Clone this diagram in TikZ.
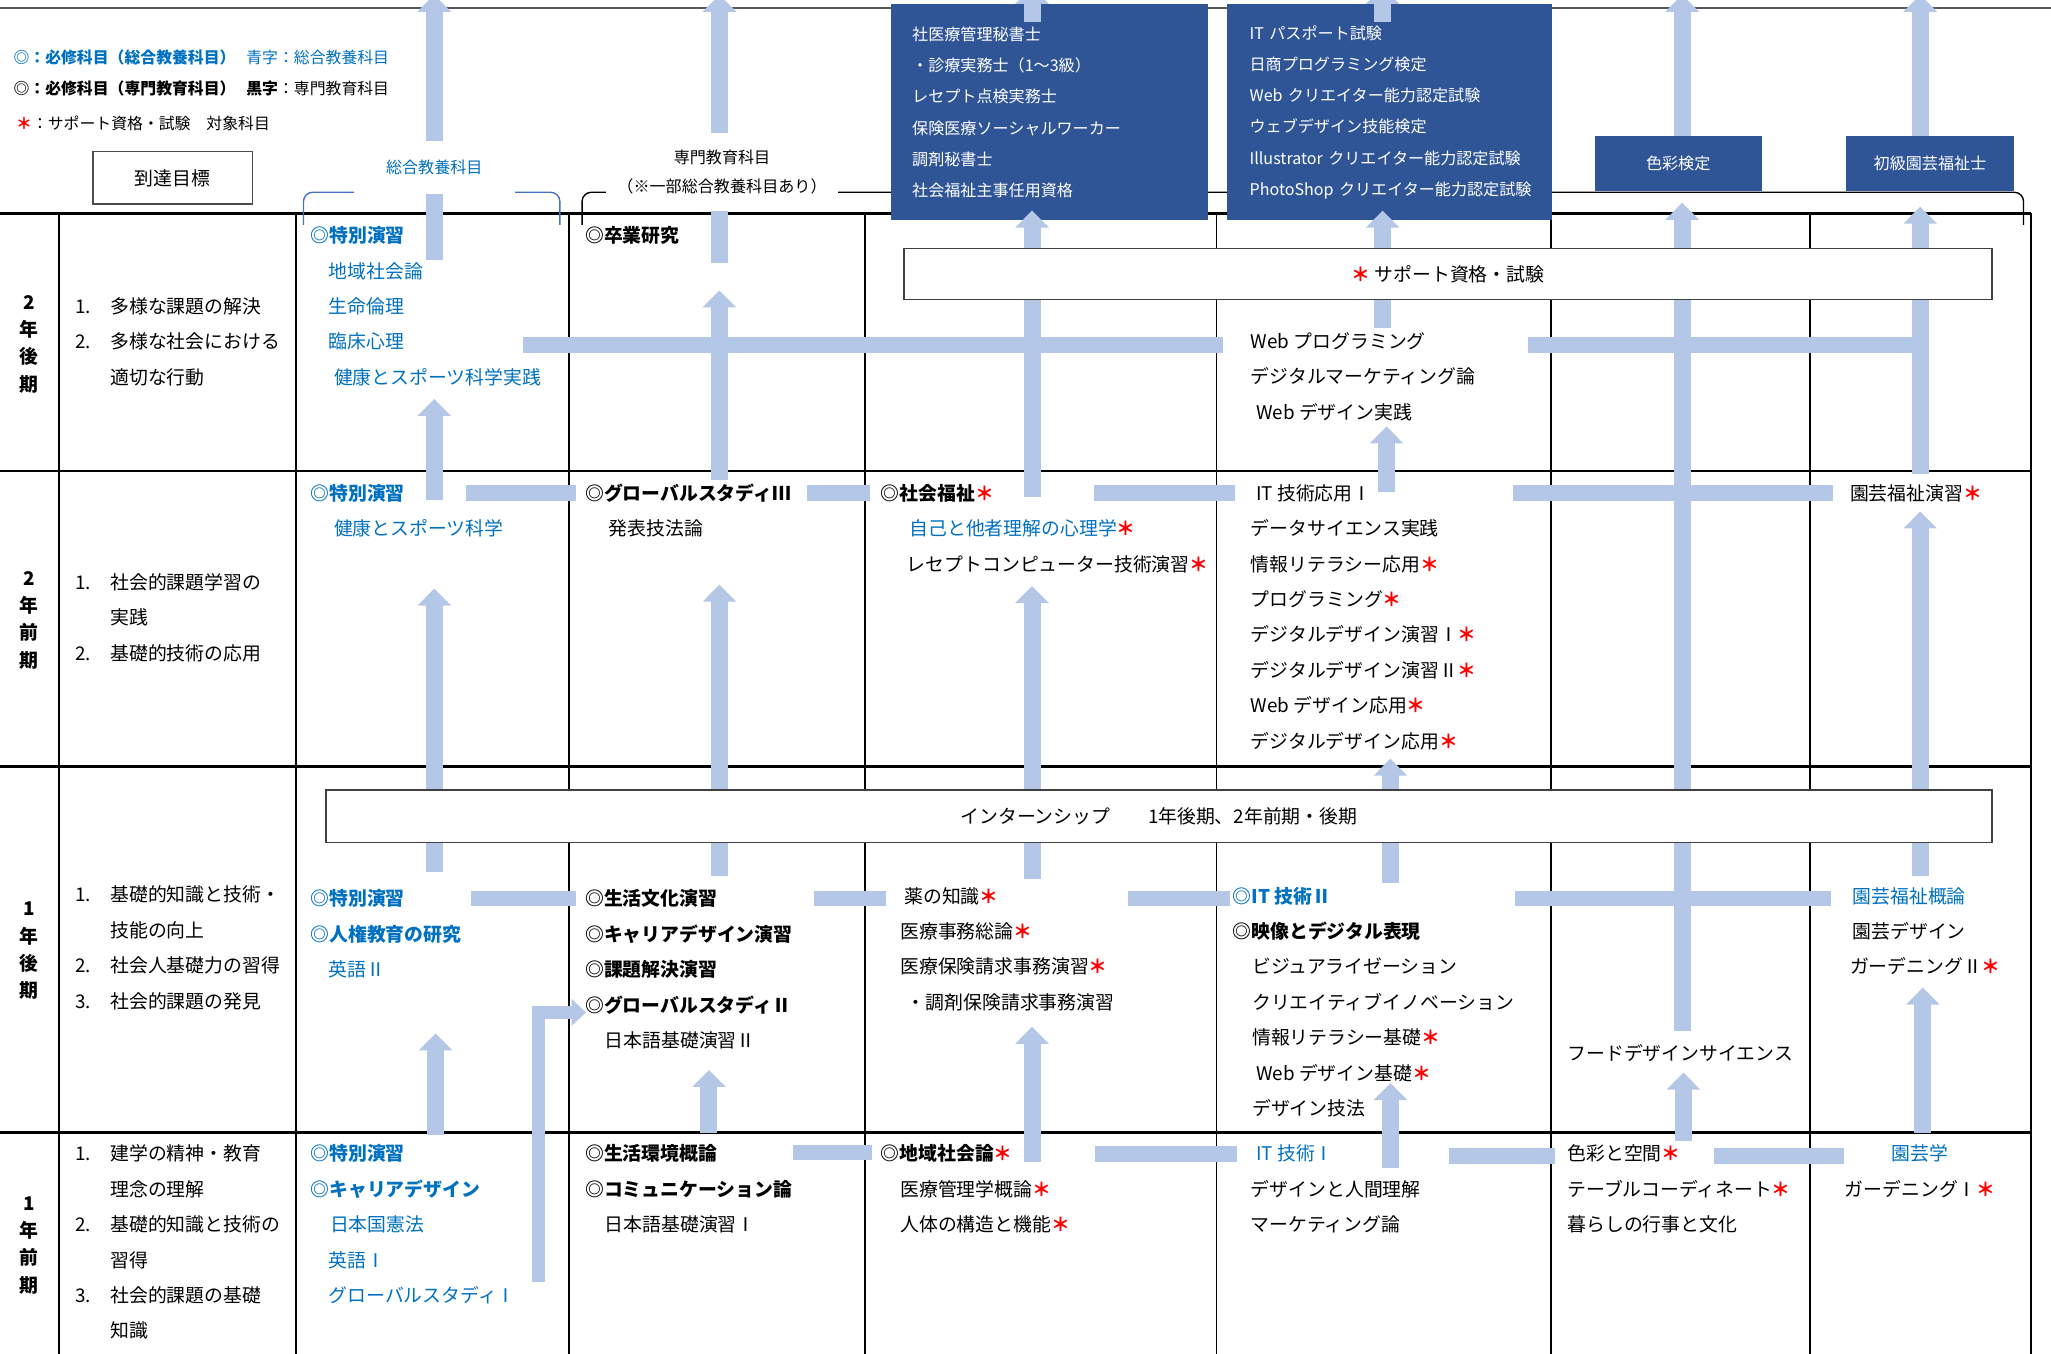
\documentclass[tikz,border=0pt]{standalone}
\usepackage{fontspec}
\setmainfont{Noto Sans CJK JP}
\usetikzlibrary{arrows.meta}

\definecolor{kyoyo}{HTML}{0070C0}
\definecolor{boxblue}{HTML}{2F5597}
\definecolor{arrowblue}{HTML}{B4C7E7}
\definecolor{bracketblue}{HTML}{4472C4}

\newcommand{\kb}[1]{\textcolor{kyoyo}{#1}}
\newcommand{\shiken}{\textcolor{red}{\bfseries ＊}}
\newcommand{\indt}[1]{\hspace*{#1}}
\newcommand{\nmb}[1]{\makebox[0.54cm][l]{#1}}
\newcommand{\lines}[1]{\begin{tabular}[t]{@{}l@{}}#1\end{tabular}}

\tikzset{
  txt/.style={font=\fontsize{8.2}{15.4}\selectfont, inner sep=0pt, anchor=base west},
  boxfont/.style={font=\fontsize{7}{13.6}\selectfont},
  uparr/.style={draw=arrowblue, line width=0.26cm, -{Triangle[width=0.5cm,length=0.26cm]}},
  hbar/.style={draw=arrowblue, line width=0.24cm},
  bluebox/.style={fill=boxblue, text=white, inner sep=0pt, boxfont},
  whitebox/.style={draw=black!75, fill=white, line width=0.6pt, font=\fontsize{8.2}{10}\selectfont},
  yearlbl/.style={font=\fontsize{8.2}{11.9}\selectfont\bfseries, align=center, inner sep=0pt},
}

\begin{document}
\begin{tikzpicture}[x=0.02cm, y=-0.02cm]
\useasboundingbox (0,0) rectangle (1568,1035);

% 罫線
\draw[black!65, line width=1pt] (0,6) -- (1568,6);
\foreach \y in {163,360,586,866} \draw[line width=1.2pt] (0,\y) -- (1553,\y);
\foreach \x in {45,226,435,661,930,1186,1384,1553} \draw[line width=0.8pt] (\x,163) -- (\x,1035);

% 括弧
\draw[bracketblue, line width=0.6pt, rounded corners=4pt] (232,172) -- (232,147) -- (428,147) -- (428,172);
\draw[line width=0.6pt, rounded corners=4pt] (445,172) -- (445,147) -- (1547,147) -- (1547,172);

% 資格
\node[bluebox, anchor=north west, minimum height=3.3cm, text width=4.2cm, inner xsep=0.32cm, align=left] (qmed) at (681,3)
  {社医療管理秘書士\\・診療実務士（1～3級）\\レセプト点検実務士\\保険医療ソーシャルワーカー\\調剤秘書士\\社会福祉主事任用資格};
\node[bluebox, anchor=north west, minimum height=3.3cm, text width=4.28cm, inner xsep=0.34cm, align=left] (qit) at (938,3)
  {IT パスポート試験\\日商プログラミング検定\\Web クリエイター能力認定試験\\ウェブデザイン技能検定\\\mbox{Illustrator クリエイター能力認定試験}\\\mbox{PhotoShop クリエイター能力認定試験}};
\node[bluebox, minimum width=2.56cm, minimum height=0.84cm] (qcolor) at (1283,125) {色彩検定};
\node[bluebox, minimum width=2.58cm, minimum height=0.84cm] (qgarden) at (1475.5,125) {初級園芸福祉士};

% 横のつながり
\foreach \n/\y/\xa/\xb in {a/264/400/935, b/264/1168/1475, c/377/356/440, d/377/617/665,
    e/377/836/944, f/377/1157/1401, g/687/360/440, h/687/622/677, i/687/862/940,
    j/687/1158/1400, k/881/606/667, l/882/837/946, m/884/1108/1189, n/884/1310/1410} {
  \coordinate (l\n) at (\xa,\y);
  \coordinate (r\n) at (\xb,\y);
  \draw[hbar] (l\n) -- (r\n);
}

% 上向き矢印
\foreach \n/\x/\ya/\yb in {1/332/199/-4, 2/332/382/305, 3/332/667/450, 4/333/868/790,
    5/550/201/-4, 6/550/367/222, 7/550/670/447, 8/542/866/818,
    9/789/380/161, 10/789/17/-10, 11/789/672/448, 12/789/888/785,
    13/1057/17/-10, 14/1057/251/161, 15/1060/376/326, 16/1063/675/580, 17/1063/893/828,
    18/1286/104/-4, 19/1286/788/155, 20/1287/872/820,
    21/1468/104/-4, 22/1468/362/158, 23/1468/670/391, 24/1470/866/755} {
  \coordinate (s\n) at (\x,\ya);
  \coordinate (t\n) at (\x,\yb);
  \draw[uparr] (s\n) -- (t\n);
}
\coordinate (gs) at (412,980);
\coordinate (gt) at (448,774);
\draw[draw=arrowblue, line width=0.2cm, -{Triangle[width=0.4cm,length=0.22cm]}] (gs) |- (gt);

% 見出し
\node[fill=white, minimum width=2.46cm, minimum height=0.8cm, inner sep=0pt, font=\fontsize{7}{9}\selectfont, text=kyoyo] (hkyoyo) at (332,128) {総合教養科目};
\node[fill=white, minimum width=3.54cm, minimum height=1.18cm, inner sep=0pt, align=center, font=\fontsize{7}{13}\selectfont] (hsenmon) at (552,131.5) {専門教育科目\\（※一部総合教養科目あり）};

\node[whitebox, minimum width=16.64cm, minimum height=0.78cm] (support) at (1107,209.5) {\shiken\ サポート資格・試験};
\node[whitebox, minimum width=25.48cm, minimum height=0.8cm] (intern) at (886,624) {インターンシップ　　1年後期、2年前期・後期};

% 凡例
\node[txt, anchor=west, font=\fontsize{6.9}{8}\selectfont] (leg1) at (10,44) {\kb{\bfseries ◎：必修科目（総合教養科目）}};
\node[txt, anchor=west, font=\fontsize{6.9}{8}\selectfont] (leg1b) at (188,44) {\kb{青字：総合教養科目}};
\node[txt, anchor=west, font=\fontsize{6.9}{8}\selectfont] (leg2) at (10,68) {{\bfseries ◎：必修科目（専門教育科目）}};
\node[txt, anchor=west, font=\fontsize{6.9}{8}\selectfont] (leg2b) at (188,68) {{\bfseries 黒字}：専門教育科目};
\node[txt, anchor=west, font=\fontsize{6.9}{8}\selectfont] (leg3) at (12,94) {\shiken：サポート資格・試験　対象科目};
\node[draw=black!70, line width=0.6pt, minimum width=2.44cm, minimum height=0.8cm, font=\fontsize{8.2}{10}\selectfont] (goal) at (132,136) {到達目標};

% 学期
\node[yearlbl] (y2b) at (22,263) {2\\年\\後\\期};
\node[yearlbl] (y2f) at (22,474) {2\\年\\前\\期};
\node[yearlbl] (y1b) at (22,727) {1\\年\\後\\期};
\node[yearlbl] (y1f) at (22,952) {1\\年\\前\\期};

% 到達目標
\node[txt] (g2b) at (57,239.5) {\lines{\nmb{1.}多様な課題の解決\\\nmb{2.}多様な社会における\\\indt{0.54cm}適切な行動}};
\node[txt] (g2f) at (57,450.5) {\lines{\nmb{1.}社会的課題学習の\\\indt{0.54cm}実践\\\nmb{2.}基礎的技術の応用}};
\node[txt] (g1b) at (57,689.5) {\lines{\nmb{1.}基礎的知識と技術・\\\indt{0.54cm}技能の向上\\\nmb{2.}社会人基礎力の習得\\\nmb{3.}社会的課題の発見}};
\node[txt] (g1f) at (57,887.5) {\lines{\nmb{1.}建学の精神・教育\\\indt{0.54cm}理念の理解\\\nmb{2.}基礎的知識と技術の\\\indt{0.54cm}習得\\\nmb{3.}社会的課題の基礎\\\indt{0.54cm}知識}};

% 総合教養科目
\node[txt, text=kyoyo] (k2b) at (237,185.5) {\lines{{\bfseries ◎特別演習}\\\indt{0.28cm}地域社会論\\\indt{0.28cm}生命倫理\\\indt{0.28cm}臨床心理\\\indt{0.36cm}健康とスポーツ科学実践}};
\node[txt, text=kyoyo] (k2f) at (237,382.5) {\lines{{\bfseries ◎特別演習}\\\indt{0.36cm}健康とスポーツ科学}};
\node[txt, text=kyoyo] (k1b) at (237,692.5) {\lines{{\bfseries ◎特別演習}\\{\bfseries ◎人権教育の研究}\\\indt{0.28cm}英語Ⅱ}};
\node[txt, text=kyoyo] (k1f) at (237,887.5) {\lines{{\bfseries ◎特別演習}\\{\bfseries ◎キャリアデザイン}\\\indt{0.3cm}日本国憲法\\\indt{0.28cm}英語Ⅰ\\\indt{0.28cm}グローバルスタディⅠ}};

% 専門教育科目
\node[txt] (s2b) at (447,185.5) {{\bfseries ◎卒業研究}};
\node[txt] (s2f) at (447,382.5) {\lines{{\bfseries ◎グローバルスタディⅢ}\\\indt{0.36cm}発表技法論}};
\node[txt] (s1b) at (447,692.5) {\lines{{\bfseries ◎生活文化演習}\\{\bfseries ◎キャリアデザイン演習}\\{\bfseries ◎課題解決演習}\\{\bfseries ◎グローバルスタディⅡ}\\\indt{0.3cm}日本語基礎演習Ⅱ}};
\node[txt] (s1f) at (447,887.5) {\lines{{\bfseries ◎生活環境概論}\\{\bfseries ◎コミュニケーション論}\\\indt{0.3cm}日本語基礎演習Ⅰ}};

\node[txt] (m2f) at (673,382.5) {\lines{{\bfseries ◎社会福祉}\shiken\\\indt{0.44cm}\kb{自己と他者理解の心理学}\shiken\\\indt{0.4cm}レセプトコンピューター技術演習\shiken}};
\node[txt] (m1b) at (688,690.5) {\lines{\indt{0.06cm}薬の知識\shiken\\医療事務総論\shiken\\医療保険請求事務演習\shiken\\\indt{0.1cm}・調剤保険請求事務演習}};
\node[txt] (m1f) at (673,887.5) {\lines{{\bfseries ◎地域社会論}\shiken\\\indt{0.3cm}医療管理学概論\shiken\\\indt{0.3cm}人体の構造と機能\shiken}};

\node[txt] (i2b) at (956,266.5) {\lines{Web プログラミング\\デジタルマーケティング論\\\indt{0.08cm}Web デザイン実践}};
\node[txt] (i2f) at (956,382.5) {\lines{\indt{0.08cm}IT 技術応用Ⅰ\\データサイエンス実践\\情報リテラシー応用\shiken\\プログラミング\shiken\\デジタルデザイン演習Ⅰ\shiken\\デジタルデザイン演習Ⅱ\shiken\\Web デザイン応用\shiken\\デジタルデザイン応用\shiken}};
\node[txt] (i1b) at (942,690.5) {\lines{\kb{\bfseries ◎IT 技術Ⅱ}\\{\bfseries ◎映像とデジタル表現}\\\indt{0.3cm}ビジュアライゼーション\\\indt{0.3cm}クリエイティブイノベーション\\\indt{0.3cm}情報リテラシー基礎\shiken\\\indt{0.36cm}Web デザイン基礎\shiken\\\indt{0.3cm}デザイン技法}};
\node[txt] (i1f) at (956,887.5) {\lines{\indt{0.08cm}\kb{IT 技術Ⅰ}\\デザインと人間理解\\マーケティング論}};

\node[txt] (c1b) at (1198,810.5) {フードデザインサイエンス};
\node[txt] (c1f) at (1198,887.5) {\lines{色彩と空間\shiken\\テーブルコーディネート\shiken\\暮らしの行事と文化}};

\node[txt] (e2f) at (1414,382.5) {園芸福祉演習\shiken};
\node[txt] (e1b) at (1414,690.5) {\lines{\indt{0.04cm}\kb{園芸福祉概論}\\\indt{0.04cm}園芸デザイン\\ガーデニングⅡ\shiken}};
\node[txt] (e1f) at (1410,887.5) {\lines{\indt{0.72cm}\kb{園芸学}\\ガーデニングⅠ\shiken}};

\end{tikzpicture}
\end{document}
